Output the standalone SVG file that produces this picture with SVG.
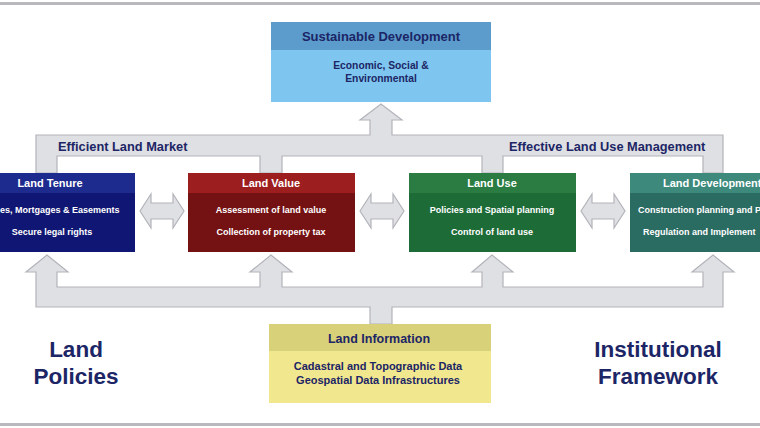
<svg xmlns="http://www.w3.org/2000/svg" width="760" height="428" viewBox="0 0 760 428">
<defs>
<style>
.t{font-family:"Liberation Sans",Arial,sans-serif;font-weight:bold}
.w{fill:#ffffff}
.n{fill:#1c2565}
.band{fill:#dfe0e4;stroke:#b3b4ba;stroke-width:1.2}
.dbl{fill:#dfe0e4;stroke:#b3b4ba;stroke-width:1.2}
</style>
</defs>
<rect x="0" y="0" width="760" height="428" fill="#ffffff"/>
<rect x="0" y="2" width="760" height="3" fill="#b9b9bd"/>
<rect x="0" y="423" width="760" height="3" fill="#b9b9bd"/>

<g id="connectors">
<path class="band" d="M36,173 L36,135 L370,135 L370,120 L360,120 L381,104 L402,120 L392,120 L392,135 L723,135 L723,173 L703,173 L703,156 L503,156 L503,173 L482,173 L482,156 L282,156 L282,173 L260,173 L260,156 L57,156 L57,173 Z"/>
<path class="band" d="M36,307 L36,272 L26,272 L47,255 L68,272 L57,272 L57,287 L260,287 L260,272 L250,272 L271,255 L292,272 L282,272 L282,287 L482,287 L482,272 L472,272 L492,255 L513,272 L503,272 L503,287 L703,287 L703,272 L692,272 L713,255 L734,272 L723,272 L723,307 L392,307 L392,324 L370,324 L370,307 Z"/>
<path class="dbl" d="M140,211 L151,194 L151,203 L173,203 L173,194 L184,211 L173,228 L173,219 L151,219 L151,228 Z"/>
<path class="dbl" d="M360,211 L371,194 L371,203 L393,203 L393,194 L404,211 L393,228 L393,219 L371,219 L371,228 Z"/>
<path class="dbl" d="M581,211 L592,194 L592,203 L614,203 L614,194 L625,211 L614,228 L614,219 L592,219 L592,228 Z"/>
<text class="t n" x="58" y="151" font-size="12.8">Efficient Land Market</text>
<text class="t n" x="509" y="151" font-size="12.8">Effective Land Use Management</text>
</g>

<g id="sustainable">
<rect x="271" y="22" width="220" height="80" fill="#7ec6ef"/>
<rect x="271" y="22" width="220" height="28" fill="#5b9ccc"/>
<text class="t n" x="381" y="41" font-size="13" text-anchor="middle">Sustainable Development</text>
<text class="t n" x="381" y="69" font-size="10.3" text-anchor="middle">Economic, Social &amp;</text>
<text class="t n" x="381" y="82" font-size="10.3" text-anchor="middle">Environmental</text>
</g>

<g id="land-tenure">
<rect x="-2" y="173" width="137" height="79" fill="#0f1673"/>
<rect x="-2" y="173" width="137" height="20" fill="#1d2a8e"/>
<text class="t w" x="50" y="187" font-size="11" text-anchor="middle">Land Tenure</text>
<text class="t w" x="0" y="213" font-size="9">es, Mortgages &amp; Easements</text>
<text class="t w" x="52" y="235" font-size="9" text-anchor="middle">Secure legal rights</text>
</g>

<g id="land-value">
<rect x="188" y="173" width="167" height="79" fill="#741112"/>
<rect x="188" y="173" width="167" height="20" fill="#9c1e1f"/>
<text class="t w" x="271" y="187" font-size="11" text-anchor="middle">Land Value</text>
<text class="t w" x="271" y="213" font-size="9" text-anchor="middle">Assessment of land value</text>
<text class="t w" x="271" y="235" font-size="9" text-anchor="middle">Collection of property tax</text>
</g>

<g id="land-use">
<rect x="409" y="173" width="167" height="79" fill="#1d6b37"/>
<rect x="409" y="173" width="167" height="20" fill="#2a7c42"/>
<text class="t w" x="492" y="187" font-size="11" text-anchor="middle">Land Use</text>
<text class="t w" x="492" y="213" font-size="9" text-anchor="middle">Policies and Spatial planning</text>
<text class="t w" x="492" y="235" font-size="9" text-anchor="middle">Control of land use</text>
</g>

<g id="land-development">
<rect x="630" y="173" width="132" height="79" fill="#2a6b62"/>
<rect x="630" y="173" width="132" height="20" fill="#3d897c"/>
<text class="t w" x="663" y="187" font-size="11">Land Development</text>
<text class="t w" x="638" y="213" font-size="9">Construction planning and P</text>
<text class="t w" x="643" y="235" font-size="9">Regulation and Implement</text>
</g>

<g id="land-information">
<rect x="269" y="324" width="222" height="79" fill="#f1e78f"/>
<rect x="269" y="324" width="222" height="27" fill="#d9d17a"/>
<text class="t n" x="379" y="343" font-size="12.5" text-anchor="middle">Land Information</text>
<text class="t n" x="378" y="370" font-size="11" text-anchor="middle">Cadastral and Topographic Data</text>
<text class="t n" x="378" y="384" font-size="11" text-anchor="middle">Geospatial Data Infrastructures</text>
</g>

<g id="land-policies">
<text class="t n" x="76" y="357" font-size="22.5" text-anchor="middle">Land</text>
<text class="t n" x="76" y="384" font-size="22.5" text-anchor="middle">Policies</text>
</g>

<g id="institutional-framework">
<text class="t n" x="658" y="357" font-size="22.5" text-anchor="middle">Institutional</text>
<text class="t n" x="658" y="384" font-size="22.5" text-anchor="middle">Framework</text>
</g>
</svg>
